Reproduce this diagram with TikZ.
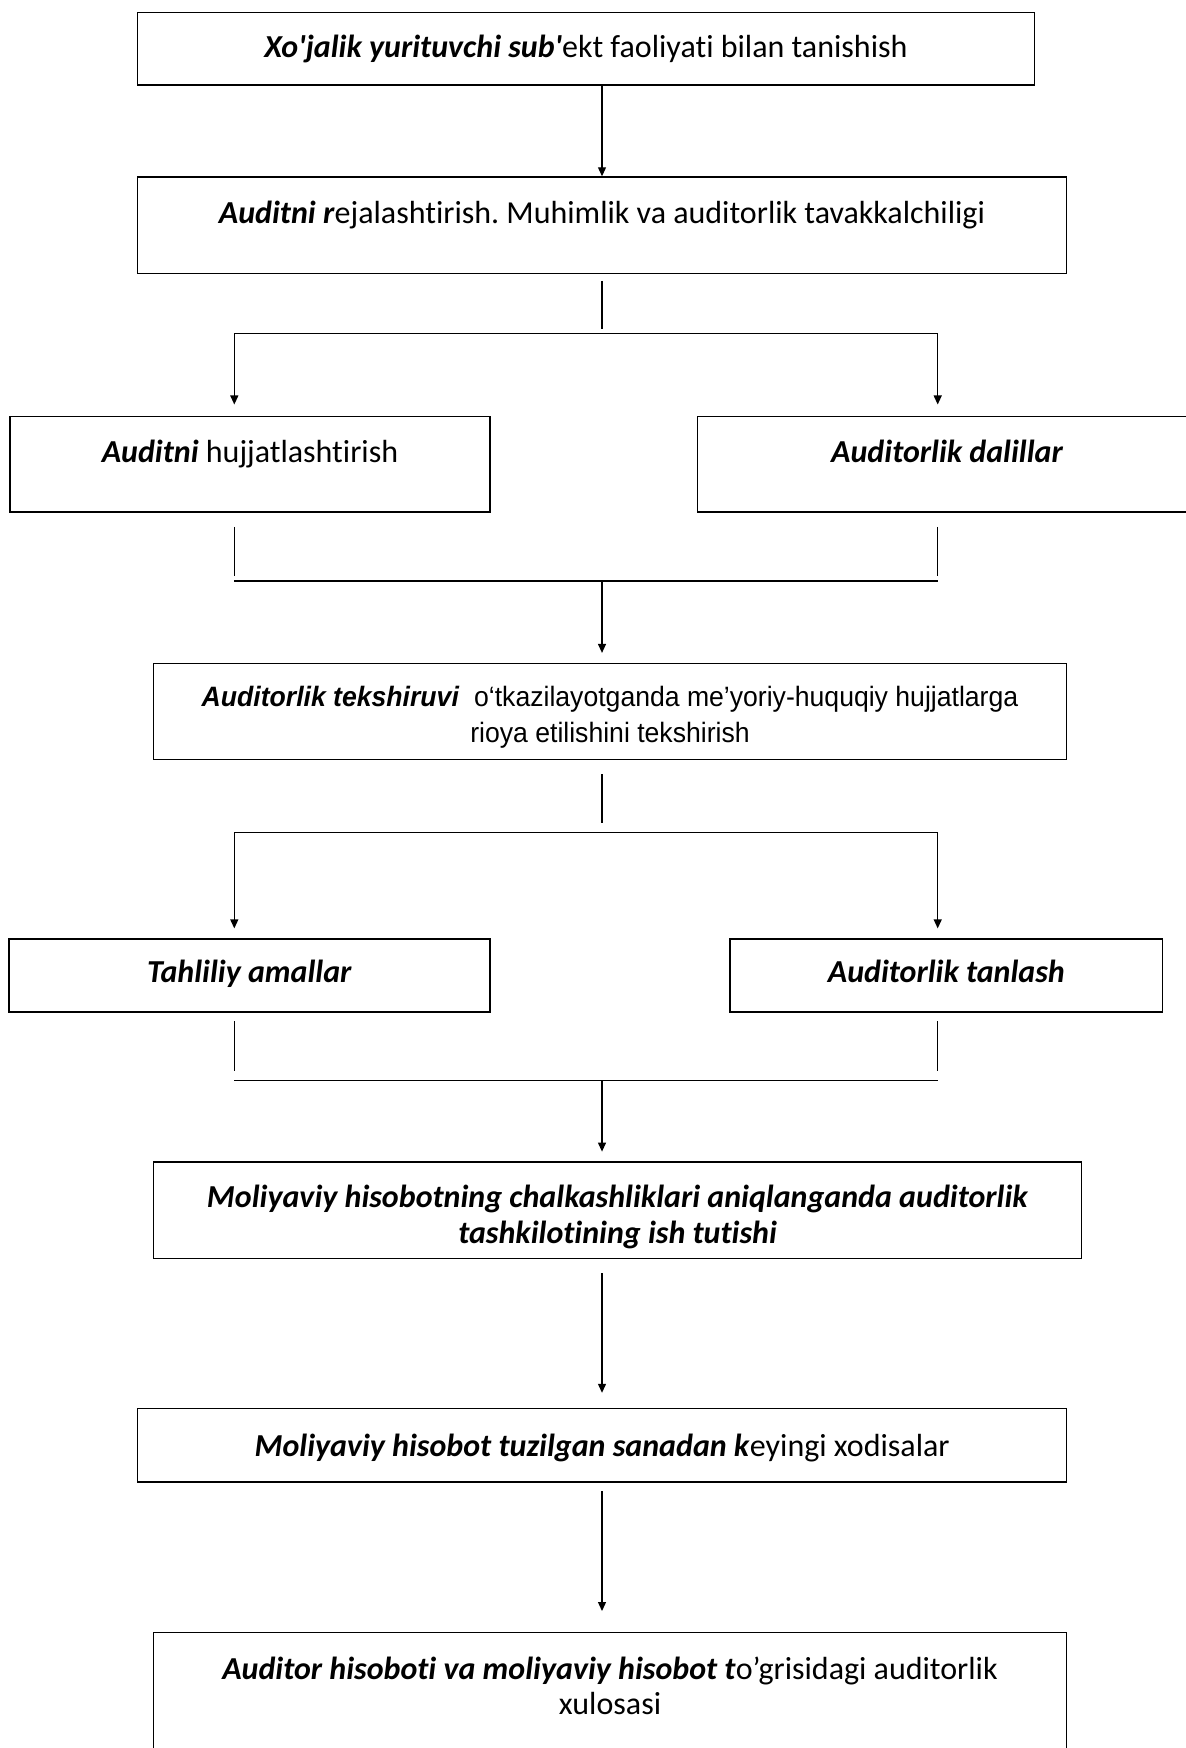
\documentclass[tikz,border=0pt]{standalone}
\usepackage{fontspec}
\setmainfont{Carlito}[Ligatures={TeX,NoCommon}]
\newfontfamily\arialc[FakeStretch=0.95]{Liberation Sans}
\usetikzlibrary{arrows.meta}
\frenchspacing
\begin{document}
\begin{tikzpicture}[x=0.5pt,y=-0.5pt,
  box/.style={draw, line width=0.7pt, inner sep=0pt},
  txt/.style={inner sep=0pt, align=center, font=\fontsize{16}{19}\selectfont},
  conn/.style={line width=0.6pt},
  arr/.style={conn, -{Triangle[length=4.5pt,width=4pt]}}]
\useasboundingbox (0,0) rectangle (1186,1748);
\newcommand\bi[1]{\textbf{\textit{#1}}}
\newcommand\ap{\textquotesingle}
% boxes
\node[box, minimum width=448.5pt, minimum height=36.25pt] (b1) at (586,48.75) {};
\node[box, minimum width=464.5pt, minimum height=48.3pt] (b2) at (602,225.3) {};
\node[box, minimum width=240pt, minimum height=47.8pt] (b3) at (250,464.2) {};
\node[box, minimum width=249.8pt, minimum height=47.8pt] (b4) at (947.2,464.2) {};
\node[box, minimum width=456.5pt, minimum height=48pt] (b5) at (610,711.25) {};
\node[box, minimum width=240.5pt, minimum height=36.5pt] (b6) at (249.5,975.5) {};
\node[box, minimum width=216.3pt, minimum height=36.5pt] (b7) at (946.3,975.5) {};
\node[box, minimum width=464.1pt, minimum height=48.3pt] (b8) at (617.6,1210.3) {};
\node[box, minimum width=464.4pt, minimum height=36.65pt] (b9) at (602.1,1445.35) {};
\node[box, minimum width=456.5pt, minimum height=73.5pt] (b10) at (610,1706) {};
% texts
\node[txt] (b1t) at (b1.center)
  {\bi{Xo\ap jalik yurituvchi sub\ap}ekt faoliyati bilan tanishish};
\node[txt] (b2t) at ([yshift=-2.8pt]b2.center)
  {\bi{Auditni r}ejalashtirish. Muhimlik va auditorlik tavakkalchiligi\\\mbox{}};
\node[txt] (b3t) at ([yshift=-2.8pt]b3.center)
  {\bi{Auditni} hujjatlashtirish\\\mbox{}};
\node[txt] (b4t) at ([yshift=-2.8pt]b4.center)
  {\bi{Auditorlik dalillar}\\\mbox{}};
\node[txt, font=\fontsize{14}{18}\selectfont\arialc] (b5t) at ([yshift=-2.8pt]b5.center)
  {\bi{Auditorlik tekshiruvi}\ \ o‘tkazilayotganda me’yoriy-huquqiy hujjatlarga\\rioya etilishini tekshirish};
\node[txt] (b6t) at ([yshift=1.1pt]b6.center)
  {\bi{Tahliliy amallar}};
\node[txt] (b7t) at ([yshift=2.2pt]b7.center)
  {\bi{Auditorlik tanlash}};
\node[txt, font=\fontsize{16}{18}\selectfont] (b8t) at ([yshift=-3.3pt]b8.center)
  {\bi{Moliyaviy hisobotning chalkashliklari aniqlanganda auditorlik}\\\bi{tashkilotining ish tutishi}};
\node[txt] (b9t) at ([yshift=-1.1pt]b9.center)
  {\bi{Moliyaviy hisobot tuzilgan sanadan k}eyingi xodisalar};
\node[txt, font=\fontsize{16}{17.5}\selectfont] (b10t) at ([yshift=1.5pt]b10.center)
  {\bi{Auditor hisoboti va moliyaviy hisobot t}o’grisidagi auditorlik\\xulosasi\\\mbox{}};
% free connector ends
\coordinate (s1a) at (602,281);   \coordinate (s1b) at (602,329);
\coordinate (h1l) at (234.3,333.7); \coordinate (h1r) at (937.7,333.7);
\coordinate (t1l) at (234.3,404.5); \coordinate (t1r) at (937.7,404.5);
\coordinate (s2l) at (234.3,527); \coordinate (s2le) at (234.3,576);
\coordinate (s2r) at (937.7,527); \coordinate (s2re) at (937.7,576);
\coordinate (h2l) at (234.3,581); \coordinate (h2r) at (937.7,581);
\coordinate (h2c) at (602,581);   \coordinate (t2c) at (602,652.9);
\coordinate (s3a) at (602,774);   \coordinate (s3b) at (602,823);
\coordinate (h3l) at (234.3,832.8); \coordinate (h3r) at (937.7,832.8);
\coordinate (t3l) at (234.3,928.4); \coordinate (t3r) at (937.7,928.4);
\coordinate (s4l) at (234.3,1021.4); \coordinate (s4le) at (234.3,1071);
\coordinate (s4r) at (937.7,1021.4); \coordinate (s4re) at (937.7,1071);
\coordinate (h4l) at (234.3,1080.4); \coordinate (h4r) at (937.7,1080.4);
\coordinate (h4c) at (602,1080.4); \coordinate (t4c) at (602,1151.6);
\coordinate (a5s) at (602,1273.4); \coordinate (a5t) at (602,1392.8);
\coordinate (a6s) at (602,1491);   \coordinate (a6t) at (602,1611);
% connectors
\draw[arr] (b1.south -| b2.north) -- (b2.north);
\draw[conn] (s1a) -- (s1b);
\draw[conn] (h1l) -- (h1r);
\draw[arr] (h1l) -- (t1l);
\draw[arr] (h1r) -- (t1r);
\draw[conn] (s2l) -- (s2le);
\draw[conn] (s2r) -- (s2re);
\draw[conn] (h2l) -- (h2r);
\draw[arr] (h2c) -- (t2c);
\draw[conn] (s3a) -- (s3b);
\draw[conn] (h3l) -- (h3r);
\draw[arr] (h3l) -- (t3l);
\draw[arr] (h3r) -- (t3r);
\draw[conn] (s4l) -- (s4le);
\draw[conn] (s4r) -- (s4re);
\draw[conn] (h4l) -- (h4r);
\draw[arr] (h4c) -- (t4c);
\draw[arr] (a5s) -- (a5t);
\draw[arr] (a6s) -- (a6t);
\end{tikzpicture}
\end{document}
